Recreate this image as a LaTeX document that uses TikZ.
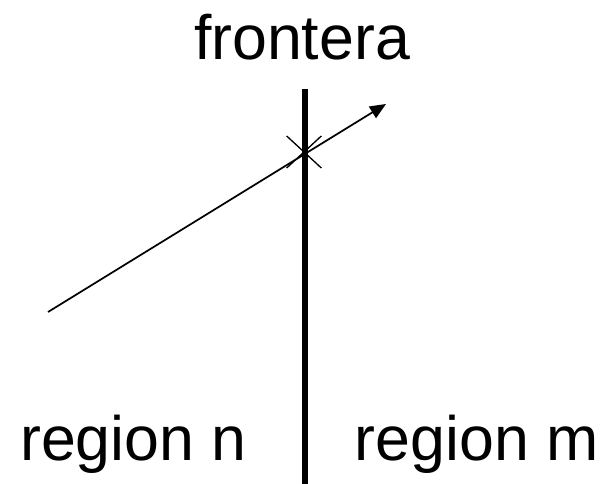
\documentclass[tikz,border=0pt]{standalone}
\usepackage{fontspec}
\setmainfont{Liberation Sans}
\usetikzlibrary{arrows.meta,positioning,shapes.misc}
\tikzset{
  etiqueta/.style={font=\fontsize{47}{56}\selectfont,inner sep=0pt},
  rayo/.style={line width=1.3pt,-{Triangle[length=12pt,width=10pt]}},
  muro/.style={line width=3.8pt}
}
\begin{document}
\begin{tikzpicture}[x=0.75pt,y=-0.75pt]
  \useasboundingbox (0,0) rectangle (607,484);
  \node[etiqueta,anchor=base] (frontera) at (302,60) {frontera};
  \coordinate (ftop) at (305,89);
  \coordinate (fbot) at (305,484);
  \draw[muro] (ftop) -- (fbot);
  \node[etiqueta,anchor=base west] (regn) at (20,460) {region n};
  \node[etiqueta,anchor=base east] (regm) at (599,460) {region m};
  \coordinate (inicio) at (48,312);
  \coordinate (punta) at (386,104);
  \draw[rayo] (inicio) -- (punta);
  \node[cross out,draw,line width=1pt,minimum width=25pt,minimum height=23pt,inner sep=0pt] (cruce) at (304,152) {};
\end{tikzpicture}
\end{document}
